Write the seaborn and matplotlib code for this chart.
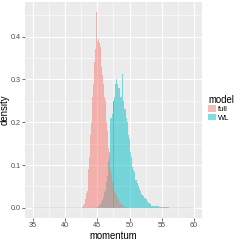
import numpy as np
import pandas as pd
import matplotlib
matplotlib.use("Agg")
import matplotlib.pyplot as plt
import matplotlib.patches as mpatches
import seaborn as sns

# histogram densities, binwidth 0.1; each list starts at the given left bin edge
full_start = 42.6
full_density = [
    0.002, 0.004, 0.006, 0.010, 0.015, 0.020, 0.030, 0.035,
    0.040, 0.060, 0.090, 0.120, 0.150, 0.170, 0.200, 0.230, 0.260, 0.290,
    0.310, 0.340, 0.350, 0.370,
    0.458, 0.400, 0.390, 0.395, 0.380, 0.385, 0.375, 0.390,
    0.330, 0.310, 0.300, 0.290, 0.280, 0.260, 0.250, 0.220, 0.200, 0.180,
    0.160, 0.140, 0.120, 0.100,
    0.090, 0.080, 0.070, 0.060, 0.055, 0.050, 0.040, 0.038, 0.035, 0.030,
    0.025, 0.022, 0.020, 0.015, 0.012, 0.010, 0.010, 0.008, 0.006, 0.005,
    0.004, 0.003, 0.003, 0.002, 0.002, 0.001, 0.001,
]
wl_start = 44.9
wl_density = [
    0.001, 0.002, 0.003, 0.004, 0.006, 0.008, 0.010, 0.014, 0.018, 0.022,
    0.026, 0.030, 0.036, 0.042, 0.050, 0.060, 0.075, 0.090, 0.110, 0.130,
    0.160, 0.210, 0.210, 0.220, 0.220, 0.250, 0.250, 0.260, 0.290, 0.290,
    0.300, 0.311, 0.290, 0.280, 0.270, 0.280, 0.260, 0.270, 0.260, 0.313,
    0.250, 0.250, 0.240, 0.230, 0.230, 0.220, 0.210, 0.200, 0.190, 0.170,
    0.160, 0.140, 0.130, 0.120, 0.100, 0.095, 0.090, 0.088, 0.085, 0.070,
    0.065, 0.065, 0.060, 0.058, 0.050, 0.046, 0.044, 0.040, 0.035, 0.032,
    0.030, 0.030, 0.028, 0.025, 0.024, 0.022, 0.022, 0.020, 0.015, 0.013,
    0.012, 0.011, 0.010, 0.009, 0.007,
    0.005, 0.005, 0.005, 0.005, 0.005, 0.005, 0.005, 0.005, 0.005, 0.005,
    0.005, 0.005,
    0.002, 0.002, 0.002, 0.002, 0.002, 0.002, 0.002, 0.002, 0.002, 0.002,
    0.002, 0.002, 0.002, 0.002, 0.002,
]
models = ["full", "WL"]
colors = {"full": "#F8766D", "WL": "#00BFC4"}
binwidth = 0.1
x_range = (35, 60)
x_ticks = [35, 40, 45, 50, 55, 60]
y_ticks = [0.0, 0.1, 0.2, 0.3, 0.4]


def bin_centers(start, n):
    return start + binwidth * (np.arange(n) + 0.5)


df = pd.concat([
    pd.DataFrame({"momentum": bin_centers(full_start, len(full_density)),
                  "density": full_density, "model": "full"}),
    pd.DataFrame({"momentum": bin_centers(wl_start, len(wl_density)),
                  "density": wl_density, "model": "WL"}),
], ignore_index=True)

plt.rcParams["font.family"] = ["Liberation Sans", "DejaVu Sans"]

fig = plt.figure(figsize=(2.41, 2.41), dpi=100)
ax = fig.add_axes([25 / 241, 23.3 / 241, 177 / 241, 215.7 / 241])
ax.set_facecolor("#EBEBEB")
ax.set_axisbelow(True)

sns.histplot(data=df, x="momentum", weights="density", hue="model",
             hue_order=models, palette=colors, binwidth=binwidth,
             binrange=x_range, stat="count", multiple="layer",
             element="bars", alpha=0.5, linewidth=0, legend=False, ax=ax)
ax.hlines(0, x_range[0], x_range[1], color="#B0B0B0", lw=0.3, zorder=1)

pad_x = (x_range[1] - x_range[0]) * 0.05
ax.set_xlim(x_range[0] - pad_x, x_range[1] + pad_x)
ymax = max(full_density)
ax.set_ylim(-0.05 * ymax, ymax * 1.05)

ax.set_xticks(x_ticks)
ax.set_xticks([t + 2.5 for t in x_ticks[:-1]], minor=True)
ax.set_yticks(y_ticks)
ax.set_yticks([t + 0.05 for t in y_ticks], minor=True)
ax.set_yticklabels([f"{t:.1f}" for t in y_ticks])
ax.grid(which="major", color="white", lw=0.8)
ax.grid(which="minor", color="white", lw=0.4)
for s in ax.spines.values():
    s.set_visible(False)
ax.tick_params(which="major", length=2, width=0.5, color="#333333",
               labelsize=5.2, labelcolor="#4D4D4D", pad=1.2)
ax.tick_params(which="minor", length=0)
ax.set_xlabel("momentum", fontsize=6.9, labelpad=1)
ax.set_ylabel("density", fontsize=6.9, labelpad=0.6)

handles = [mpatches.Patch(facecolor=colors[m], alpha=0.5, edgecolor="none", label=m)
           for m in models]
leg = fig.legend(handles=handles, title="model", loc="upper left",
                 bbox_to_anchor=(208 / 241, 1 - 95 / 241), frameon=False,
                 prop={"size": 5.4}, title_fontproperties={"size": 6.9},
                 handlelength=1.0, handleheight=1.0, handletextpad=0.3,
                 labelspacing=0.05, borderaxespad=0, borderpad=0,
                 alignment="left")

fig.savefig("out.png", dpi=100)
